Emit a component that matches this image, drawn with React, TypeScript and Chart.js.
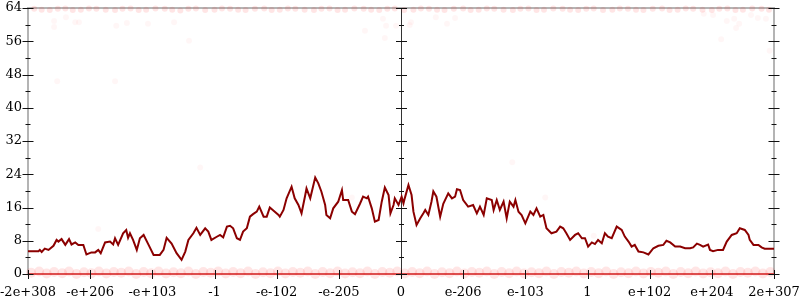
import React, { useEffect, useRef } from "react";
import { Chart, registerables } from "chart.js";

Chart.register(...registerables);

const xTickLabels = ["-2e+308", "-e+206", "-e+103", "-1", "-e-102", "-e-205", "0", "e-206", "e-103", "1", "e+102", "e+204", "2e+307"];
const centerTick = 6;

const lineX = [
  0, 0.17, 0.19, 0.22, 0.27, 0.33, 0.41, 0.46, 0.49, 0.54, 0.6, 0.66, 0.7, 0.76, 0.81, 0.89, 0.94, 1.02, 1.08, 1.13,
  1.17, 1.24, 1.32, 1.37, 1.4, 1.45, 1.53, 1.58, 1.61, 1.64, 1.69, 1.75, 1.8, 1.86, 1.94, 2.02, 2.12, 2.18, 2.23, 2.31,
  2.39, 2.47, 2.53, 2.58, 2.66, 2.71, 2.77, 2.85, 2.9, 2.95, 3.03, 3.09, 3.14, 3.2, 3.25, 3.3, 3.36, 3.41, 3.46, 3.52,
  3.57, 3.62, 3.68, 3.72, 3.79, 3.84, 3.89, 3.97, 4.03, 4.05, 4.11, 4.16, 4.24, 4.29, 4.35, 4.4, 4.46, 4.48, 4.54, 4.62,
  4.67, 4.72, 4.78, 4.8, 4.86, 4.91, 4.99, 5.05, 5.07, 5.15, 5.21, 5.26, 5.34, 5.39, 5.45, 5.47, 5.53, 5.58, 5.64, 5.69,
  5.74, 5.8, 5.83, 5.88, 5.9, 5.96, 6.01, 6.04, 6.06, 6.12, 6.17, 6.2, 6.25, 6.31, 6.36, 6.39, 6.44, 6.49, 6.52, 6.57,
  6.63, 6.68, 6.76, 6.82, 6.87, 6.9, 6.95, 7.0, 7.08, 7.16, 7.22, 7.27, 7.33, 7.38, 7.46, 7.49, 7.54, 7.59, 7.65, 7.7,
  7.75, 7.81, 7.84, 7.89, 7.94, 8.0, 8.08, 8.13, 8.18, 8.24, 8.29, 8.34, 8.42, 8.5, 8.56, 8.61, 8.66, 8.72, 8.8, 8.85,
  8.91, 8.96, 9.01, 9.07, 9.12, 9.17, 9.23, 9.28, 9.33, 9.39, 9.47, 9.55, 9.6, 9.66, 9.71, 9.76, 9.82, 9.9, 9.98, 10.06,
  10.14, 10.22, 10.27, 10.33, 10.41, 10.49, 10.57, 10.65, 10.7, 10.76, 10.81, 10.86, 10.94, 10.97, 11.02, 11.1, 11.18, 11.24, 11.32, 11.4,
  11.45, 11.53, 11.59, 11.61, 11.67, 11.75, 11.8, 11.85, 12.0,
];
const lineY = [
  5.5, 5.5, 5.8, 5.3, 6.1, 5.8, 6.8, 8.2, 7.8, 8.4, 7.0, 8.4, 7.1, 7.6, 7.0, 7.0, 4.7, 5.2, 5.2, 5.8,
  5.0, 7.6, 7.8, 7.1, 8.6, 7.0, 9.8, 10.6, 8.7, 9.8, 8.2, 5.8, 8.6, 9.4, 7.0, 4.6, 4.6, 5.8, 8.7, 7.3,
  5.0, 3.4, 5.4, 8.2, 9.8, 11.1, 9.4, 11.0, 10.2, 8.2, 8.9, 9.4, 8.8, 11.4, 11.6, 11.0, 8.6, 8.2, 10.2, 11.0,
  13.8, 14.4, 15.0, 16.2, 13.8, 13.8, 16.0, 15.0, 14.2, 13.8, 15.4, 18.2, 21.0, 18.2, 16.6, 14.6, 19.0, 20.6, 18.2, 23.2,
  21.8, 19.8, 16.6, 14.2, 13.4, 15.8, 17.4, 20.2, 17.8, 17.8, 15.0, 14.4, 16.9, 18.6, 18.2, 18.6, 15.8, 12.6, 13.0, 17.4,
  20.8, 19.0, 14.6, 16.6, 18.2, 16.6, 18.6, 17.0, 18.2, 21.4, 19.0, 15.0, 11.8, 13.4, 14.6, 15.4, 14.2, 17.4, 19.9, 18.6,
  13.8, 16.9, 19.4, 18.2, 18.6, 20.4, 20.2, 17.8, 16.2, 16.6, 14.6, 16.2, 14.2, 18.2, 17.8, 15.4, 17.8, 15.4, 17.4, 13.4,
  17.4, 16.2, 17.8, 15.0, 14.2, 12.2, 15.0, 14.2, 15.8, 13.8, 14.2, 11.0, 9.8, 10.2, 11.4, 11.0, 9.8, 8.2, 9.4, 9.8,
  8.6, 8.6, 6.6, 7.6, 7.2, 8.2, 7.4, 9.8, 9.0, 8.6, 11.4, 10.6, 9.0, 7.8, 6.6, 7.0, 5.4, 5.2, 4.7, 6.2,
  6.8, 7.0, 8.0, 7.6, 6.6, 6.6, 6.2, 6.2, 6.4, 7.3, 7.0, 6.6, 7.1, 5.8, 5.5, 5.8, 5.8, 7.8, 9.4, 9.8,
  11.0, 10.6, 9.4, 8.2, 7.0, 7.0, 6.4, 6.1, 6.1,
];

const bottomDots: [number, number][] = [
  [0.05, 0.3], [0.18, 0.6], [0.3, 0.1], [0.42, 0.5], [0.55, 0.2], [0.66, 0.6], [0.78, 0.0], [0.9, 0.4], [1.02, 0.2], [1.14, 0.6],
  [1.26, 0.1], [1.38, 0.5], [1.5, 0.3], [1.62, 0.6], [1.74, 0.0], [1.86, 0.5], [1.98, 0.2], [2.1, 0.6], [2.22, 0.1], [2.34, 0.4],
  [2.46, 0.2], [2.58, 0.6], [2.7, 0.0], [2.82, 0.5], [2.94, 0.3], [3.06, 0.6], [3.18, 0.1], [3.3, 0.5], [3.42, 0.2], [3.54, 0.6],
  [3.66, 0.0], [3.78, 0.4], [3.9, 0.2], [4.02, 0.6], [4.14, 0.1], [4.26, 0.5], [4.38, 0.3], [4.5, 0.6], [4.62, 0.0], [4.74, 0.5],
  [4.86, 0.2], [4.98, 0.6], [5.1, 0.1], [5.22, 0.4], [5.34, 0.2], [5.46, 0.6], [5.58, 0.0], [5.7, 0.5], [5.82, 0.3], [5.94, 0.6],
  [6.06, 0.1], [6.18, 0.5], [6.3, 0.2], [6.42, 0.6], [6.54, 0.0], [6.66, 0.4], [6.78, 0.2], [6.9, 0.6], [7.02, 0.1], [7.14, 0.5],
  [7.26, 0.3], [7.38, 0.6], [7.5, 0.0], [7.62, 0.5], [7.74, 0.2], [7.86, 0.6], [7.98, 0.1], [8.1, 0.4], [8.22, 0.2], [8.34, 0.6],
  [8.46, 0.0], [8.58, 0.5], [8.7, 0.3], [8.82, 0.6], [8.94, 0.1], [9.06, 0.5], [9.18, 0.2], [9.3, 0.6], [9.42, 0.0], [9.54, 0.4],
  [9.66, 0.2], [9.78, 0.6], [9.9, 0.1], [10.02, 0.5], [10.14, 0.3], [10.26, 0.6], [10.38, 0.0], [10.5, 0.5], [10.62, 0.2], [10.74, 0.6],
  [10.86, 0.1], [10.98, 0.4], [11.1, 0.2], [11.22, 0.6], [11.34, 0.0], [11.46, 0.5], [11.58, 0.3], [11.7, 0.6], [11.82, 0.1], [11.94, 0.5],
];

const topDots: [number, number][] = [
  [0.1, 63.8], [0.22, 63.6], [0.35, 63.5], [0.48, 63.8], [0.6, 63.9], [0.72, 63.5], [0.85, 63.6], [0.98, 63.9], [1.1, 63.8], [1.25, 63.6],
  [1.4, 63.5], [1.52, 63.8], [1.65, 63.9], [1.78, 63.5], [1.9, 63.6], [2.05, 63.9], [2.2, 63.8], [2.32, 63.6], [2.45, 63.4], [2.58, 63.8],
  [2.7, 63.9], [2.85, 63.5], [3.0, 63.6], [3.12, 63.9], [3.25, 63.8], [3.38, 63.6], [3.5, 63.5], [3.65, 63.8], [3.8, 63.9], [3.92, 63.5],
  [4.05, 63.6], [4.18, 63.9], [4.3, 63.8], [4.45, 63.6], [4.6, 63.5], [4.72, 63.8], [4.85, 63.9], [4.98, 63.5], [5.1, 63.6], [5.25, 63.9],
  [5.4, 63.8], [5.52, 63.6], [5.65, 63.5], [5.78, 63.8], [5.9, 63.9], [6.05, 63.5], [6.2, 63.6], [6.32, 63.9], [6.45, 63.8], [6.58, 63.6],
  [6.7, 63.5], [6.85, 63.8], [7.0, 63.9], [7.12, 63.5], [7.25, 63.6], [7.38, 63.9], [7.5, 63.8], [7.65, 63.6], [7.8, 63.5], [7.92, 63.8],
  [8.05, 63.9], [8.18, 63.5], [8.3, 63.6], [8.45, 63.9], [8.6, 63.8], [8.72, 63.6], [8.85, 63.5], [8.98, 63.8], [9.1, 63.9], [9.25, 63.5],
  [9.4, 63.6], [9.52, 63.9], [9.65, 63.8], [9.78, 63.6], [9.9, 63.5], [10.05, 63.8], [10.2, 63.9], [10.32, 63.5], [10.45, 63.6], [10.58, 63.9],
  [10.7, 63.8], [10.85, 63.6], [11.0, 63.5], [11.12, 63.8], [11.25, 63.9], [11.38, 63.5], [11.5, 63.6], [11.65, 63.9], [11.8, 63.8], [11.92, 63.6],
];

const sparseDots: [number, number][] = [
  [0.42, 60.9], [0.42, 59.4], [0.61, 61.8], [0.76, 60.6], [0.82, 60.6], [1.42, 59.7], [1.59, 60.4], [1.93, 60.2], [2.35, 60.6], [2.59, 56.1],
  [0.47, 46.4], [1.4, 46.4], [5.42, 58.5], [5.71, 61.4], [5.76, 59.7], [5.74, 56.8], [5.92, 59.7], [6.16, 60.6], [6.14, 59.9], [6.56, 61.8],
  [6.74, 60.2], [6.87, 61.6], [10.87, 62.6], [11.02, 62.3], [11.24, 60.9], [11.36, 61.4], [11.44, 60.2], [11.39, 59.2], [11.63, 62.3], [11.74, 61.6],
  [11.87, 61.4], [11.15, 56.5], [11.93, 53.7], [1.13, 10.8], [2.77, 25.6], [5.21, 18.4], [7.79, 26.9], [8.32, 18.4], [9.1, 9.2],
];

const axesPlugin = {
  id: "axesFrame",
  beforeDatasetsDraw(chart: any) {
    const { ctx, chartArea: a, scales } = chart;
    const x = scales.x;
    const y = scales.y;
    ctx.save();
    ctx.strokeStyle = "#b4b4b4";
    ctx.lineWidth = 2;
    ctx.strokeRect(a.left, a.top, a.right - a.left, a.bottom - a.top);
    ctx.strokeStyle = "rgba(225,70,70,0.85)";
    ctx.beginPath();
    ctx.moveTo(a.left, a.bottom);
    ctx.lineTo(a.right, a.bottom);
    ctx.stroke();
    const cx = Math.round(x.getPixelForValue(centerTick)) + 0.5;
    ctx.strokeStyle = "#333";
    ctx.lineWidth = 1;
    ctx.beginPath();
    ctx.moveTo(cx, a.top);
    ctx.lineTo(cx, a.bottom);
    ctx.stroke();
    ctx.restore();
  },
  afterDatasetsDraw(chart: any) {
    const { ctx, chartArea: a, scales } = chart;
    const x = scales.x;
    const y = scales.y;
    ctx.save();
    ctx.strokeStyle = "#111";
    ctx.lineWidth = 1;
    ctx.beginPath();
    const cx = Math.round(x.getPixelForValue(centerTick)) + 0.5;
    const axesX = [a.left, cx, a.right];
    for (let v = 0; v <= 64; v += 4) {
      const py = Math.round(y.getPixelForValue(v)) + 0.5;
      const len = v % 8 === 0 ? 5.5 : 2.5;
      for (const px of axesX) {
        ctx.moveTo(px - len, py);
        ctx.lineTo(px + len, py);
      }
    }
    for (let i = 0; i < xTickLabels.length; i++) {
      const px = Math.round(x.getPixelForValue(i)) + 0.5;
      ctx.moveTo(px, a.bottom - 4);
      ctx.lineTo(px, a.bottom + 5);
    }
    ctx.stroke();
    ctx.restore();
  },
};

export default function App() {
  const ref = useRef<HTMLCanvasElement | null>(null);
  useEffect(() => {
    if (!ref.current) return;
    const font = { family: "'DejaVu Serif', serif", size: 13 };
    const chart = new Chart(ref.current, {
      type: "line",
      data: {
        datasets: [
          {
            type: "line",
            data: lineX.map((xv, i) => ({ x: xv, y: lineY[i] })),
            borderColor: "#8b0000",
            borderWidth: 2,
            pointRadius: 0,
            tension: 0,
            fill: false,
          },
          {
            type: "scatter",
            data: sparseDots.map(([xv, yv]) => ({ x: xv, y: yv })),
            backgroundColor: "rgba(255,0,0,0.035)",
            borderWidth: 0,
            pointRadius: 3,
            clip: false,
          } as any,
          {
            type: "scatter",
            data: topDots.map(([xv, yv]) => ({ x: xv, y: yv })),
            backgroundColor: "rgba(255,0,0,0.1)",
            borderWidth: 0,
            pointRadius: 3,
            clip: false,
          } as any,
          {
            type: "scatter",
            data: bottomDots.map(([xv, yv]) => ({ x: xv, y: yv })),
            backgroundColor: "rgba(255,0,0,0.1)",
            borderWidth: 0,
            pointRadius: 5,
            clip: false,
          } as any,
        ],
      },
      options: {
        animation: false,
        responsive: true,
        maintainAspectRatio: false,
        layout: { padding: { top: 8, right: 26, left: 0, bottom: 0 } },
        plugins: { legend: { display: false }, tooltip: { enabled: false } },
        scales: {
          x: {
            type: "linear",
            min: 0,
            max: 12,
            grid: { display: false, drawTicks: false },
            border: { display: false },
            ticks: {
              stepSize: 1,
              autoSkip: false,
              maxRotation: 0,
              padding: 11,
              color: "#000",
              font,
              callback: (v: any) => xTickLabels[Math.round(Number(v))] ?? "",
            },
            afterFit: (s: any) => {
              s.height = 26;
              s.paddingLeft = 0;
              s.paddingRight = 0;
            },
          },
          y: {
            min: 0,
            max: 64,
            grid: { display: false, drawTicks: false },
            border: { display: false },
            ticks: { stepSize: 8, padding: 6, color: "#000", font },
            afterFit: (s: any) => {
              s.width = 28;
              s.paddingTop = 0;
              s.paddingBottom = 0;
            },
          },
        },
      },
      plugins: [axesPlugin],
    });
    return () => chart.destroy();
  }, []);
  return (
    <div style={{ position: "absolute", left: 0, top: 0, width: 800, height: 300, background: "#fff" }}>
      <canvas ref={ref} />
    </div>
  );
}
